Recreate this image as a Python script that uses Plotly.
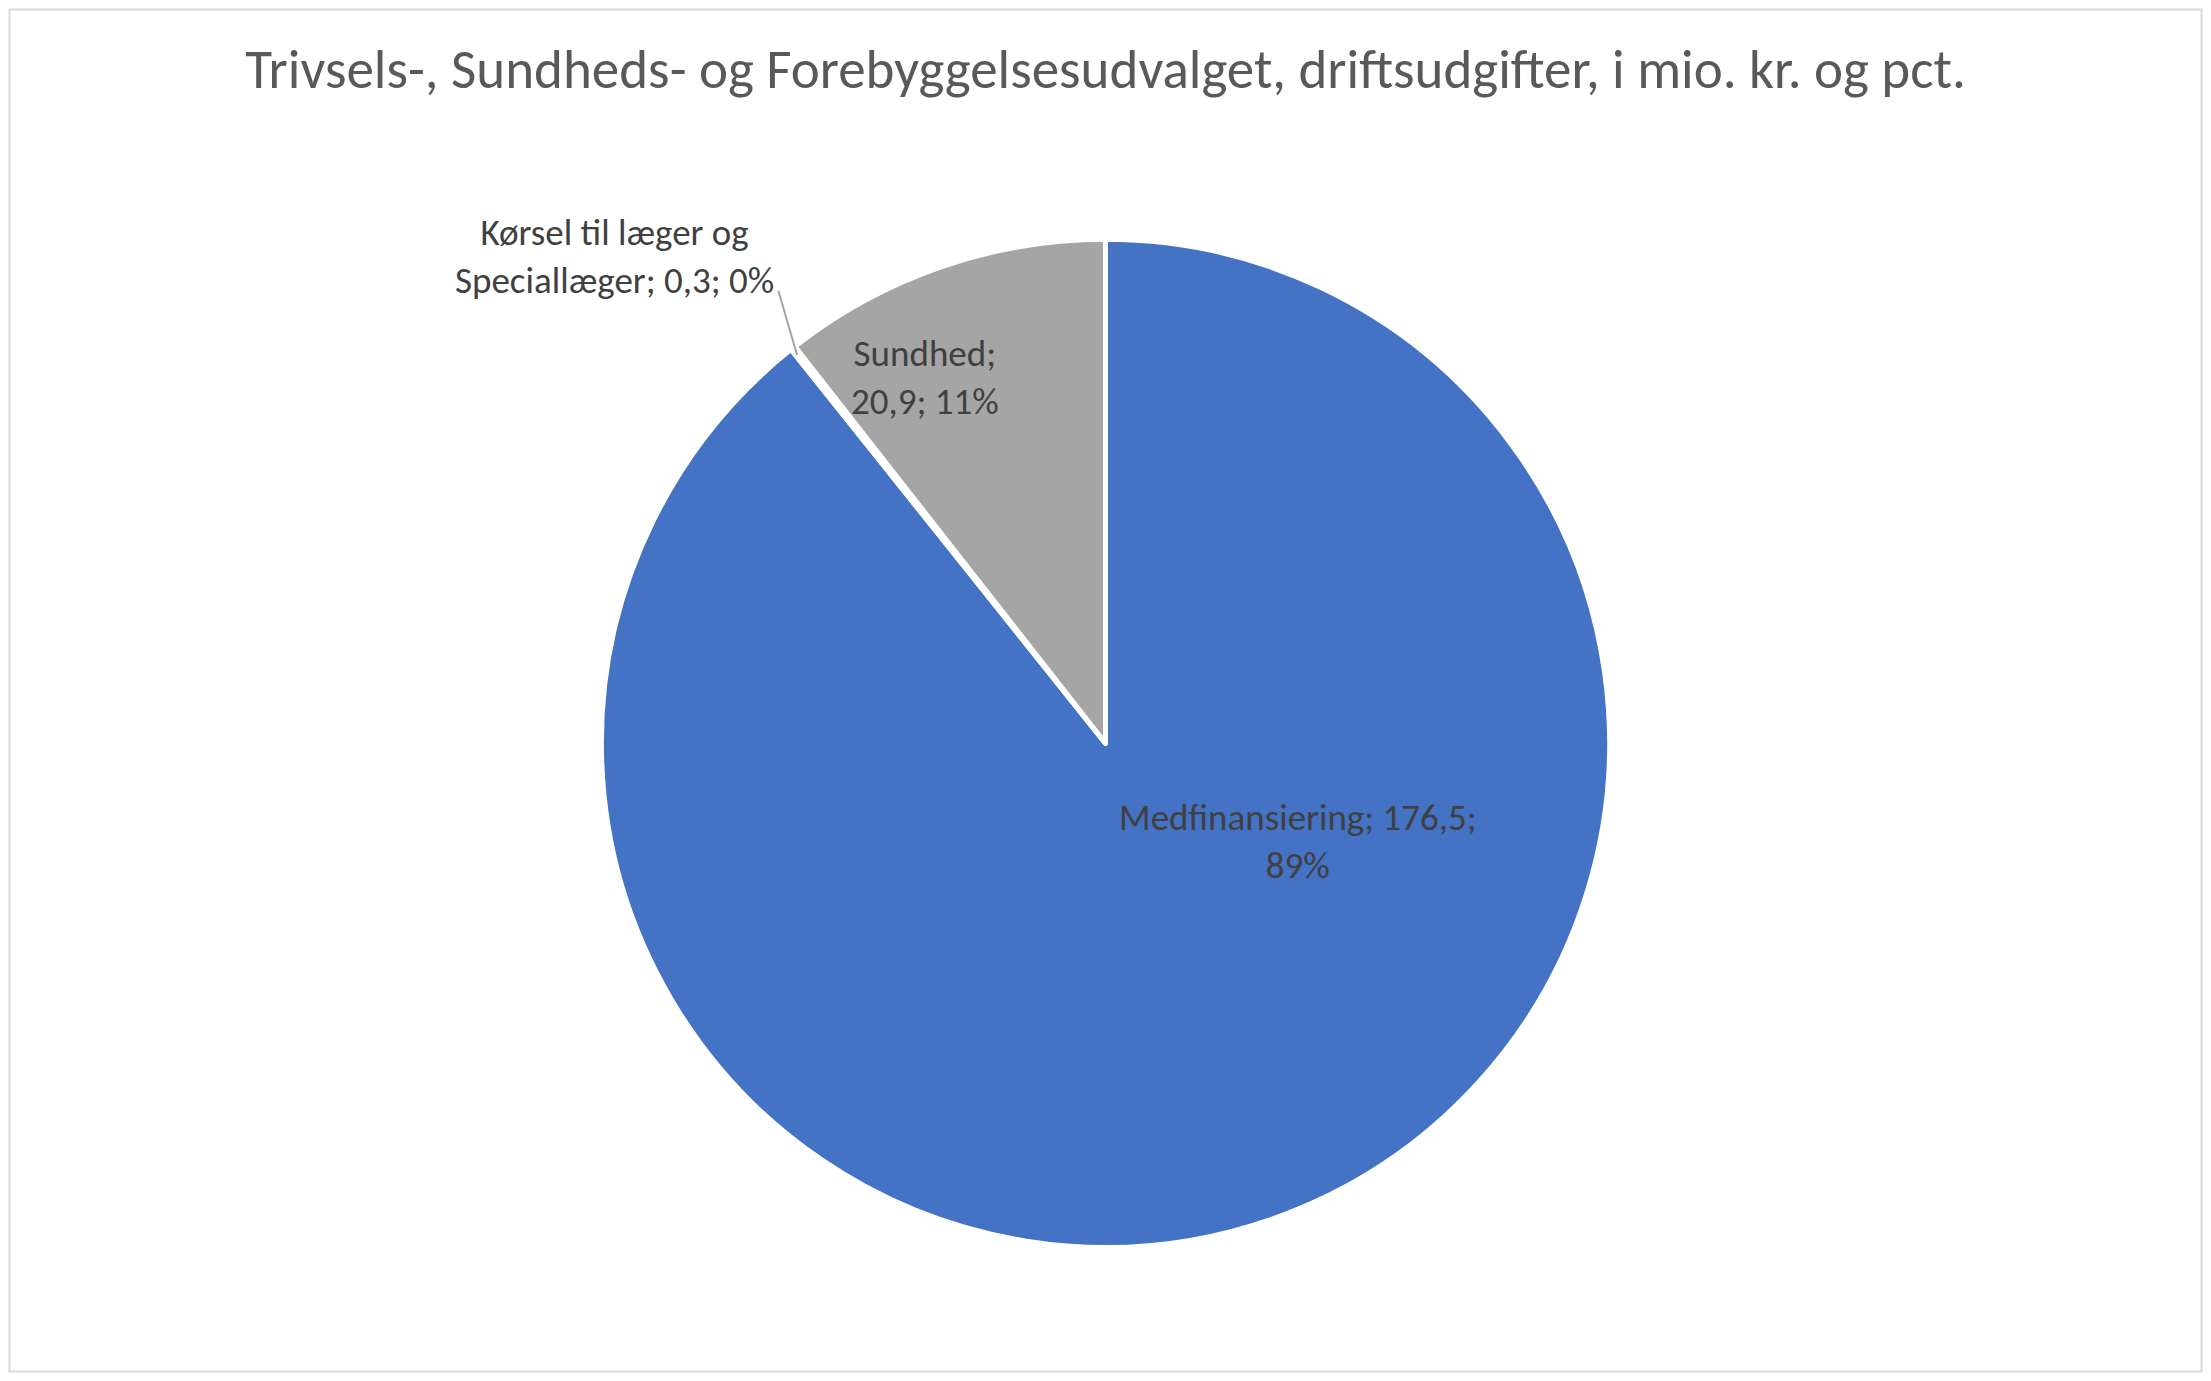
import math
import plotly.graph_objects as go

# data
labels = ['Medfinansiering', 'Kørsel til læger og Speciallæger', 'Sundhed']
values = [176.5, 0.3, 20.9]
colors = ['#4472C4', '#ED7D31', '#A5A5A5']
title_text = 'Trivsels-, Sundheds- og Forebyggelsesudvalget, driftsudgifter, i mio. kr. og pct.'

W, H = 2211, 1381
CX, CY = 0.5, 0.4613      # pie centre, paper coords
R_PX = 501                # visible pie radius in px
R_DOM = 510               # domain half height (plotly trims a little)
FONT = 'Carlito, Calibri, Lato, sans-serif'

total = sum(values)


def fmt(v):
    return f'{v:.1f}'.replace('.', ',')


def pct(v):
    return f'{round(100 * v / total):.0f}%'


fig = go.Figure(go.Pie(
    labels=labels,
    values=values,
    sort=False,
    direction='clockwise',
    rotation=0,
    marker=dict(colors=colors, line=dict(color='white', width=5)),
    textinfo='none',
    hoverinfo='label+value+percent',
    showlegend=False,
    domain=dict(x=[0, 1], y=[CY - R_DOM / H, CY + R_DOM / H]),
))

# labels placed like Excel does
txt = [
    f'{labels[0]}; {fmt(values[0])};<br>{pct(values[0])}',
    f'Kørsel til læger og<br>Speciallæger; {fmt(values[1])}; {pct(values[1])}',
    f'{labels[2]};<br>{fmt(values[2])}; {pct(values[2])}',
]
label_pos = [(1299, 843), (611, 251), (924, 374)]
for t, (px, py) in zip(txt, label_pos):
    fig.add_annotation(
        x=px / W, y=1 - py / H, xref='paper', yref='paper',
        text=t, showarrow=False, xanchor='center', yanchor='middle',
        font=dict(family=FONT, size=37, color='#404040'),
    )

# leader line for the tiny slice
a = 2 * math.pi * (values[0] + values[1] / 2) / total
tip_x = CX + R_PX * math.sin(a) / W
tip_y = CY + R_PX * math.cos(a) / H
fig.add_shape(type='line', xref='paper', yref='paper',
              x0=776 / W, y0=1 - 286 / H, x1=tip_x, y1=tip_y,
              line=dict(color='#A6A6A6', width=2))

# chart border
fig.add_shape(type='rect', xref='paper', yref='paper',
              x0=1.5 / W, y0=1.5 / H, x1=1 - 1.5 / W, y1=1 - 1.5 / H,
              line=dict(color='#D9D9D9', width=2))

fig.update_layout(
    title=dict(text=title_text, x=0.5, xanchor='center', y=1 - 61 / H, yanchor='middle',
               font=dict(family=FONT, size=55, color='#595959')),
    margin=dict(l=0, r=0, t=0, b=0),
    paper_bgcolor='white',
    plot_bgcolor='white',
)

fig.write_html('out.html')
